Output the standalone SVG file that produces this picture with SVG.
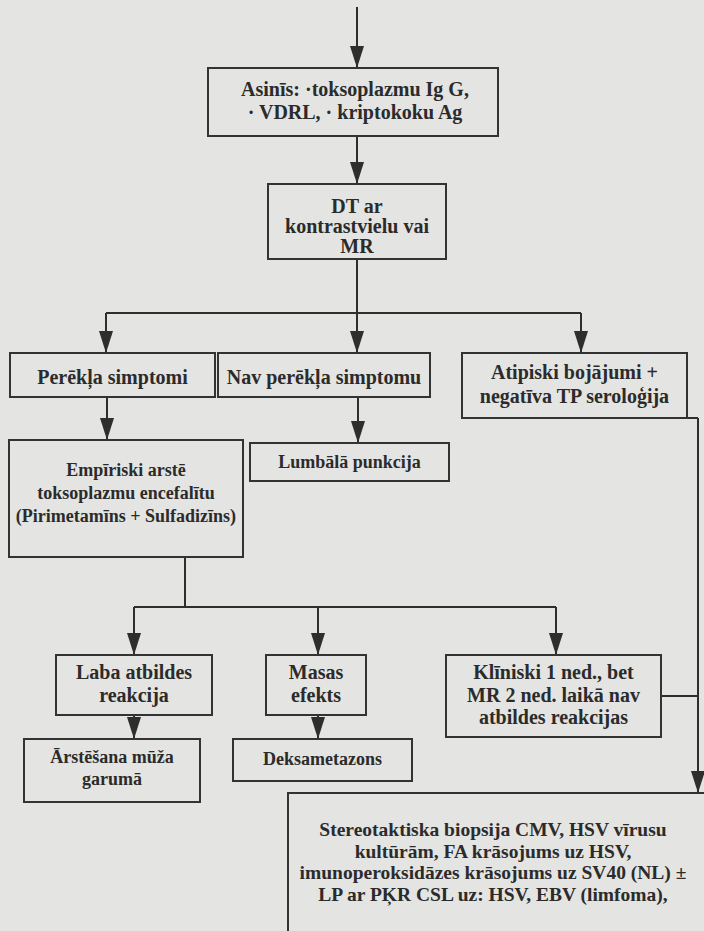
<svg xmlns="http://www.w3.org/2000/svg" width="704" height="931" viewBox="0 0 704 931">
  <defs>
    <marker id="arrow" markerUnits="userSpaceOnUse" markerWidth="24" markerHeight="14" refX="22" refY="7" orient="auto">
      <path d="M0,0 L22,7 L0,14 Z" fill="#2e2e2e"/>
    </marker>
  </defs>
  <style>
    .bg { fill: #e4e4e2; }
    .box { fill: none; stroke: #333; stroke-width: 2; }
    .t { font-family: "Liberation Serif", "Times New Roman", serif; font-weight: bold; font-size: 20px; fill: #2b2b2b; text-anchor: middle; }
    .s { font-size: 18px; }
    .b { font-size: 19.5px; }
    .ln { fill: none; stroke: #2e2e2e; stroke-width: 2; }
    .ar { marker-end: url(#arrow); }
  </style>

  <rect class="bg" x="0" y="0" width="704" height="931"/>

  <!-- connectors -->
  <g id="connectors">
    <path class="ln ar" d="M357,7 V68"/>
    <path class="ln ar" d="M357,136 V184"/>
    <path class="ln" d="M357,259 V313"/>
    <path class="ln" d="M106,313 H581"/>
    <path class="ln ar" d="M106,313 V353"/>
    <path class="ln ar" d="M357,313 V353"/>
    <path class="ln ar" d="M581,313 V353"/>
    <path class="ln ar" d="M107,397 V440"/>
    <path class="ln ar" d="M358,397 V443"/>
    <path class="ln" d="M185,557 V607"/>
    <path class="ln" d="M134,607 H556"/>
    <path class="ln ar" d="M134,607 V655"/>
    <path class="ln ar" d="M318,607 V655"/>
    <path class="ln ar" d="M556,607 V655"/>
    <path class="ln ar" d="M134,715 V739"/>
    <path class="ln ar" d="M318,715 V739"/>
    <path class="ln" d="M687,418 H698"/>
    <path class="ln" d="M661,696 H698"/>
    <path class="ln ar" d="M698,418 V793"/>
  </g>

  <g id="serum">
    <rect class="box" x="208" y="68" width="290" height="68"/>
    <text class="t" x="355" y="96">Asinīs: ·toksoplazmu Ig G,</text>
    <text class="t" x="355" y="119">· VDRL, · kriptokoku Ag</text>
  </g>

  <g id="imaging">
    <rect class="box" x="268" y="184" width="178" height="75"/>
    <text class="t" x="357" y="213">DT ar</text>
    <text class="t" x="357" y="233">kontrastvielu vai</text>
    <text class="t" x="357" y="253">MR</text>
  </g>

  <g id="focal">
    <rect class="box" x="10" y="353" width="205" height="44"/>
    <text class="t" x="112.5" y="384">Perēkļa simptomi</text>
  </g>

  <g id="nonfocal">
    <rect class="box" x="218" y="353" width="212" height="44"/>
    <text class="t" x="324" y="384">Nav perēkļa simptomu</text>
  </g>

  <g id="atypical">
    <rect class="box" x="462" y="353" width="225" height="65"/>
    <text class="t" x="574.5" y="379">Atipiski bojājumi +</text>
    <text class="t" x="574.5" y="403">negatīva TP seroloģija</text>
  </g>

  <g id="empiric">
    <rect class="box" x="9" y="440" width="234" height="117"/>
    <text class="t s" x="126" y="476">Empīriski arstē</text>
    <text class="t s" x="126" y="499">toksoplazmu encefalītu</text>
    <text class="t s" x="126" y="522">(Pirimetamīns + Sulfadizīns)</text>
  </g>

  <g id="lumbar">
    <rect class="box" x="250" y="443" width="199" height="38"/>
    <text class="t s" x="349.5" y="468">Lumbālā punkcija</text>
  </g>

  <g id="good-response">
    <rect class="box" x="56" y="655" width="156" height="60"/>
    <text class="t" x="134" y="679">Laba atbildes</text>
    <text class="t" x="134" y="702">reakcija</text>
  </g>

  <g id="mass-effect">
    <rect class="box" x="266" y="655" width="100" height="60"/>
    <text class="t" x="316" y="679">Masas</text>
    <text class="t" x="316" y="702">efekts</text>
  </g>

  <g id="no-response">
    <rect class="box" x="446" y="655" width="215" height="82"/>
    <text class="t" x="553.5" y="679">Klīniski 1 ned., bet</text>
    <text class="t" x="553.5" y="702">MR 2 ned. laikā nav</text>
    <text class="t" x="553.5" y="724">atbildes reakcijas</text>
  </g>

  <g id="lifelong">
    <rect class="box" x="24" y="739" width="176" height="63"/>
    <text class="t s" x="112" y="763">Ārstēšana mūža</text>
    <text class="t s" x="112" y="785">garumā</text>
  </g>

  <g id="dexamethasone">
    <rect class="box" x="233" y="739" width="179" height="42"/>
    <text class="t s" x="322.5" y="765">Deksametazons</text>
  </g>

  <g id="biopsy">
    <rect class="box" x="288" y="793" width="430" height="160"/>
    <text class="t b" x="493" y="836">Stereotaktiska biopsija CMV, HSV vīrusu</text>
    <text class="t b" x="493" y="858">kultūrām, FA krāsojums uz HSV,</text>
    <text class="t b" x="493" y="879">imunoperoksidāzes krāsojums uz SV40 (NL) ±</text>
    <text class="t b" x="493" y="901">LP ar PĶR CSL uz: HSV, EBV (limfoma),</text>
  </g>
</svg>
